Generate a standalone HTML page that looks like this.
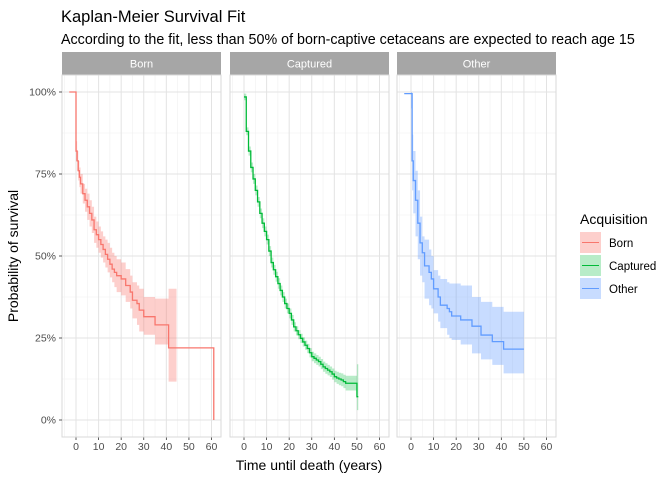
<!DOCTYPE html>
<html><head><meta charset="utf-8"><style>
body{margin:0;background:#fff;font-family:"Liberation Sans",sans-serif}
svg text{font-family:"Liberation Sans",sans-serif}
</style></head><body>
<svg id="c" width="672" height="480">
<text x="61" y="22" font-size="16.5" fill="#000">Kaplan-Meier Survival Fit</text>
<text x="61" y="44" font-size="14.3" fill="#000">According to the fit, less than 50% of born-captive cetaceans are expected to reach age 15</text>
<text transform="translate(18,256) rotate(-90)" text-anchor="middle" font-size="14">Probability of survival</text>
<text x="309" y="470" text-anchor="middle" font-size="14">Time until death (years)</text>
<g id="panels"></g>
<g>
<text x="580" y="224" font-size="14">Acquisition</text>
<g><rect x="580" y="232" width="21" height="21" fill="#F8766D" fill-opacity="0.35"/><line x1="582" x2="599" y1="242.5" y2="242.5" stroke="#F8766D"/><text x="609" y="247" font-size="11.5">Born</text></g>
<g><rect x="580" y="255" width="21" height="21" fill="#00BA38" fill-opacity="0.28"/><line x1="582" x2="599" y1="265.5" y2="265.5" stroke="#00BA38"/><text x="609" y="270" font-size="11.5">Captured</text></g>
<g><rect x="580" y="278" width="21" height="21" fill="#619CFF" fill-opacity="0.35"/><line x1="582" x2="599" y1="288.5" y2="288.5" stroke="#619CFF"/><text x="609" y="293" font-size="11.5">Other</text></g>
</g>
</svg>
<script>
const panelNames=["Born","Captured","Other"];
const bornT=[-3,0,0.5,1,1.5,2,3,4,5,6,7,8,9,10,11,12,13,14,15,16,17,18,20,22,24,25,27,28,30,35,41,61];
const bornS=[1,0.82,0.79,0.76,0.74,0.72,0.69,0.67,0.65,0.63,0.61,0.58,0.565,0.55,0.535,0.52,0.505,0.49,0.475,0.46,0.45,0.44,0.43,0.41,0.39,0.365,0.355,0.335,0.315,0.29,0.22,0];
const bornLo=[1,0.79,0.76,0.73,0.71,0.69,0.66,0.635,0.61,0.59,0.57,0.54,0.525,0.51,0.495,0.48,0.465,0.45,0.435,0.42,0.405,0.39,0.38,0.36,0.34,0.31,0.29,0.27,0.26,0.23,0.117,0.117];
const bornHi=[1,0.85,0.82,0.79,0.77,0.75,0.72,0.705,0.69,0.67,0.65,0.62,0.605,0.59,0.575,0.56,0.55,0.54,0.525,0.51,0.50,0.49,0.48,0.46,0.44,0.42,0.41,0.40,0.375,0.37,0.40,0.40];
const bornBandEnd=44.5;
const capT=[0,1,2,3,4,5,6,7,8,9,10,11,12,13,14,15,16,17,18,19,20,21,22,23,24,25,26,27,28,29,30,31,32,33,34,35,36,37,38,39,40,41,42,43,44,45,50];
const capS=[0.985,0.88,0.82,0.77,0.735,0.70,0.665,0.63,0.60,0.575,0.55,0.515,0.48,0.458,0.437,0.416,0.395,0.375,0.355,0.34,0.325,0.305,0.284,0.272,0.26,0.249,0.238,0.228,0.218,0.205,0.193,0.188,0.183,0.178,0.17,0.162,0.157,0.152,0.147,0.14,0.132,0.128,0.125,0.122,0.117,0.112,0.071];
const capLo=[0.975,0.868,0.806,0.755,0.72,0.685,0.65,0.615,0.585,0.56,0.535,0.50,0.465,0.443,0.422,0.40,0.38,0.36,0.34,0.325,0.31,0.29,0.27,0.258,0.246,0.235,0.224,0.214,0.204,0.191,0.179,0.173,0.168,0.163,0.155,0.147,0.141,0.136,0.131,0.123,0.115,0.11,0.106,0.103,0.097,0.09,0.03];
const capHi=[0.995,0.892,0.834,0.785,0.75,0.715,0.68,0.645,0.615,0.59,0.565,0.53,0.495,0.473,0.452,0.432,0.41,0.39,0.37,0.355,0.34,0.32,0.298,0.286,0.274,0.263,0.252,0.242,0.232,0.219,0.208,0.203,0.198,0.193,0.186,0.178,0.173,0.168,0.163,0.157,0.15,0.147,0.144,0.142,0.138,0.135,0.17];
const capBandEnd=50.6;
const othT=[-3,0,0.5,1,2,3,4,5,6,8,9,10,12,13,16,17,18,22,27,31,36,41];
const othS=[0.995,0.995,0.79,0.73,0.67,0.60,0.54,0.51,0.47,0.45,0.43,0.40,0.375,0.35,0.34,0.33,0.317,0.305,0.286,0.259,0.239,0.216];
const othLo=[0.995,0.95,0.70,0.63,0.56,0.49,0.44,0.42,0.37,0.35,0.34,0.325,0.30,0.28,0.26,0.25,0.244,0.23,0.203,0.185,0.168,0.142];
const othHi=[0.995,1.0,0.87,0.82,0.76,0.70,0.62,0.56,0.55,0.52,0.50,0.457,0.44,0.43,0.42,0.416,0.416,0.41,0.375,0.36,0.345,0.33];
const othBandEnd=50;
const xTicks=[0,10,20,30,40,50,60];
const yTicks=[0,0.25,0.5,0.75,1];
const yTickLabels=["0%","25%","50%","75%","100%"];
const series=[
 {t:bornT,s:bornS,lo:bornLo,hi:bornHi,end:61,bandEnd:bornBandEnd,col:"#F8766D",fo:0.35},
 {t:capT,s:capS,lo:capLo,hi:capHi,end:50.6,bandEnd:capBandEnd,col:"#00BA38",fo:0.28},
 {t:othT,s:othS,lo:othLo,hi:othHi,end:50,bandEnd:othBandEnd,col:"#619CFF",fo:0.35}];
const panelX=[62,230,397], pw=159, pTop=75, pBottom=437, stripTop=52;
const xMin=-6.2, xMax=64.2;
const yS=v=>420-v*328;
const NS="http://www.w3.org/2000/svg";
const g=document.getElementById("panels");
function mk(tag,attrs,parent){const e=document.createElementNS(NS,tag);for(const k in attrs)e.setAttribute(k,attrs[k]);(parent||g).appendChild(e);return e;}
panelNames.forEach((name,i)=>{
 const x0=panelX[i]; const xS=v=>x0+(v-xMin)/(xMax-xMin)*pw;
 const pg=mk("g",{});
 
 
 mk("rect",{x:x0,y:stripTop,width:pw,height:pTop-stripTop,fill:"#A6A6A6"},pg);
 const stt=mk("text",{x:x0+pw/2,y:stripTop+15.5,"text-anchor":"middle","font-size":"11",fill:"#fff"},pg);stt.textContent=name;
 
 
 for(let v=-5;v<=65;v+=10) if(xS(v)>x0&&xS(v)<x0+pw) mk("line",{x1:xS(v),x2:xS(v),y1:pTop,y2:pBottom,stroke:"#F0F0F0","stroke-width":0.6},pg);
 for(let k=0;k<4;k++){const v=0.125+k*0.25;mk("line",{x1:x0,x2:x0+pw,y1:yS(v),y2:yS(v),stroke:"#F0F0F0","stroke-width":0.6},pg);}
 xTicks.forEach(v=>{mk("line",{x1:xS(v),x2:xS(v),y1:pTop,y2:pBottom,stroke:"#E3E3E3","stroke-width":1},pg);
  mk("line",{x1:xS(v),x2:xS(v),y1:pBottom,y2:pBottom+3,stroke:"#333","stroke-width":0.8},pg);
  const tl=mk("text",{x:xS(v),y:pBottom+13,"text-anchor":"middle","font-size":"10.5",fill:"#4D4D4D"},pg);tl.textContent=v;
  
  });
 yTicks.forEach(v=>mk("line",{x1:x0,x2:x0+pw,y1:yS(v),y2:yS(v),stroke:"#E3E3E3","stroke-width":1},pg));
 mk("rect",{x:x0,y:pTop,width:pw,height:pBottom-pTop,fill:"none",stroke:"#D9D9D9","stroke-width":1},pg);
 const S=series[i];
 let up="",dn="";
 for(let j=0;j<S.t.length;j++){if(S.t[j]>=S.bandEnd)break;const te=j+1<S.t.length?Math.min(S.t[j+1],S.bandEnd):S.bandEnd;
  up+=(j?"L":"M")+xS(S.t[j])+","+yS(S.hi[j])+"L"+xS(te)+","+yS(S.hi[j]);}
 for(let j=S.t.length-1;j>=0;j--){if(S.t[j]>=S.bandEnd)continue;const te=j+1<S.t.length?Math.min(S.t[j+1],S.bandEnd):S.bandEnd;
  dn+="L"+xS(te)+","+yS(S.lo[j])+"L"+xS(S.t[j])+","+yS(S.lo[j]);}
 const band=mk("path",{d:up+dn+"Z",fill:S.col,"fill-opacity":S.fo},pg);
 
 
 let d="";
 for(let j=0;j<S.t.length;j++){d+=(j?"L"+xS(S.t[j])+","+yS(S.s[j-1])+"L":"M")+xS(S.t[j])+","+yS(S.s[j]);}
 d+="L"+xS(S.end)+","+yS(S.s[S.s.length-1]);
 const ln=mk("path",{d:d,fill:"none",stroke:S.col,"stroke-width":1.3},pg);
 
 
});
yTicks.forEach((v,k)=>{mk("line",{x1:59,x2:62,y1:yS(v),y2:yS(v),stroke:"#333","stroke-width":0.8});
 const t=mk("text",{x:56,y:yS(v)+3.5,"text-anchor":"end","font-size":"10.5",fill:"#4D4D4D"});t.textContent=yTickLabels[k];
 
 });
</script>
</body></html>
